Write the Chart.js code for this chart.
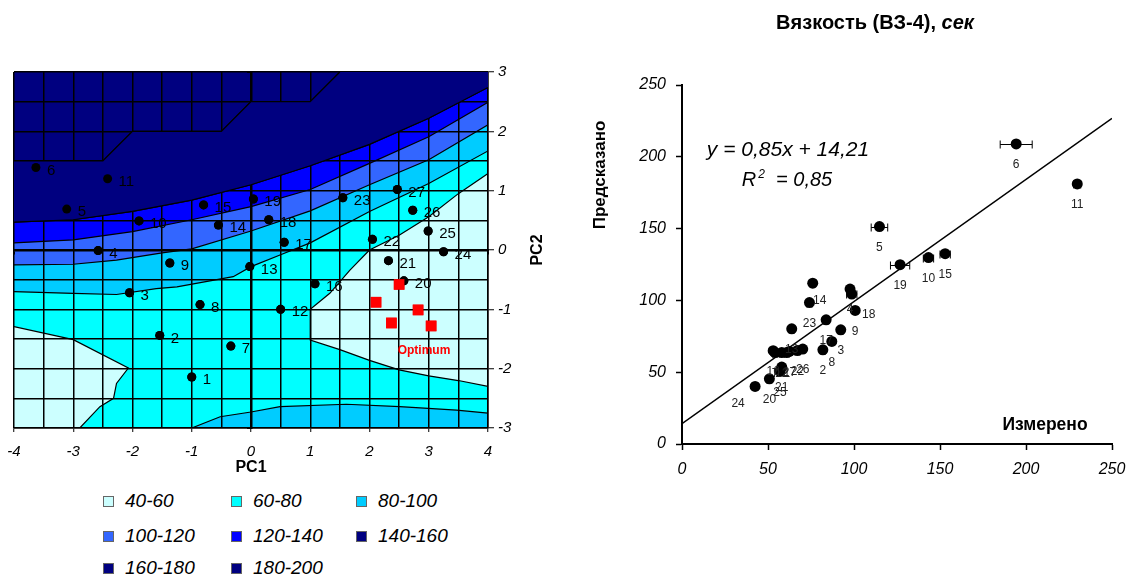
<!DOCTYPE html>
<html lang="ru">
<head>
<meta charset="utf-8">
<title>Вязкость (ВЗ-4)</title>
<script src="https://cdn.jsdelivr.net/npm/chart.js@4.4.1/dist/chart.umd.min.js"></script>
<style>
  html, body { margin: 0; padding: 0; background: #fff; }
  #page { position: relative; width: 1134px; height: 578px; overflow: hidden;
          font-family: Arial, "Liberation Sans", sans-serif; color: #000; }
  #pcaChart { position: absolute; left: 0; top: 0; }
  #fitChart { position: absolute; left: 580px; top: 0; }
  .label { position: absolute; white-space: nowrap; transform: translate(-50%, -50%); }
  .vertical { transform: translate(-50%, -50%) rotate(-90deg); }
  .legend-item { position: absolute; font-style: italic; font-size: 19px; line-height: 20px;
                 padding-left: 22px; white-space: nowrap; }
  .legend-item span { position: absolute; left: 0; top: 5px; width: 9px; height: 9px;
                      border: 1px solid #666; }
</style>
</head>
<body>
<div id="page">
  <canvas id="pcaChart" width="560" height="480"></canvas>
  <canvas id="fitChart" width="554" height="500"></canvas>

  <div class="label vertical" style="left:537px;top:250px;font-weight:bold;font-size:16px">PC2</div>

  <div class="label" style="left:875px;top:22px;font-weight:bold;font-size:20px">Вязкость (ВЗ-4), <i>сек</i></div>
  <div class="label vertical" style="left:600px;top:175px;font-weight:bold;font-size:17px">Предсказано</div>
  <div class="label" style="left:1045px;top:424px;font-weight:bold;font-size:17.5px">Измерено</div>
  <div id="eqLine" class="label" style="left:788px;top:149px;font-style:italic;font-size:21px"></div>
  <div id="r2Line" class="label" style="left:787px;top:179px;font-style:italic;font-size:20px"></div>

  <div id="legend"></div>
</div>

<script>
`use strict`

// ---------------- left chart: samples in PC1/PC2 over the viscosity surface ----------------

const sampleNames = ['1', '2', '3', '4', '5', '6', '7', '8', '9', '10', '11', '12', '13', '14',
    '15', '16', '17', '18', '19', '20', '21', '22', '23', '24', '25', '26', '27'];
const samplePc1 = [-1.00, -1.54, -2.05, -2.58, -3.11, -3.63, -0.34, -0.86, -1.37, -1.89, -2.42, 0.50, -0.02, -0.55,
    -0.80, 1.08, 0.56, 0.30, 0.04, 2.58, 2.32, 2.05, 1.55, 3.25, 2.99, 2.73, 2.47];
const samplePc2 = [-2.14, -1.44, -0.72, -0.01, 0.69, 1.39, -1.62, -0.92, -0.22, 0.49, 1.20, -1.00, -0.28, 0.42,
    0.76, -0.57, 0.13, 0.51, 0.86, -0.52, -0.18, 0.18, 0.88, -0.03, 0.32, 0.67, 1.02];

// optimum settings (red squares)
const optimumPc1 = [2.11, 2.50, 2.82, 2.37, 3.04];
const optimumPc2 = [-0.88, -0.58, -1.01, -1.23, -1.28];

// contour lines of the response surface
const c80x = [-4, -3, -2.27, -1.6, -1.25, -0.3, 0, 0.5, 1, 2, 3, 4];
const c80y = [-0.70, -0.73, -0.75, -0.65, -0.62, -0.45, -0.28, -0.08, 0.12, 0.65, 1.12, 1.67];
const c100x = [-4, -3, -2.27, -1.5, -1, 0, 1, 2, 3, 4];
const c100y = [-0.25, -0.24, -0.17, -0.05, 0.02, 0.32, 0.66, 1.10, 1.52, 2.11];
const c120x = [-4, -3, -2, -1, 0, 1, 2, 3, 4];
const c120y = [0.12, 0.17, 0.31, 0.51, 0.73, 1.02, 1.46, 1.91, 2.49];
const c140x = [-4, -3, -2, -1, 0, 1, 2, 3, 4];
const c140y = [0.47, 0.51, 0.65, 0.84, 1.10, 1.42, 1.78, 2.22, 2.74];
const c160x = [-4, -2.5, -2, -0.5, 0, 1, 1.5];
const c160y = [1.5, 1.5, 2.0, 2.0, 2.5, 2.5, 3.0];
// 60 line, right-hand low area
const c60rx = [4, 3.5, 3, 2.5, 2, 1.67, 1.33, 1, 1, 1.5, 2, 2.5, 3, 3.5, 4];
const c60ry = [1.29, 0.95, 0.56, 0.25, 0, -0.34, -0.73, -1.0, -1.52, -1.68, -1.86, -2.02, -2.12, -2.2, -2.3];
// 60 line, lower-left low area
const c60lx = [-4, -3, -2.07, -2.27, -2.32, -2.55, -2.89];
const c60ly = [-1.29, -1.51, -1.99, -2.25, -2.5, -2.64, -3.0];
// 80 line along the bottom edge
const c80bx = [-1, -0.52, 0, 0.49, 1.61, 2.51, 3.47, 4];
const c80by = [-3, -2.81, -2.73, -2.64, -2.60, -2.64, -2.70, -2.75];

const bandLabels = ['40-60', '60-80', '80-100', '100-120', '120-140', '140-160', '160-180', '180-200'];
const bandColors = ['#ccffff', '#00ffff', '#00ccff', '#3366ff', '#0000ff', '#000080', '#000080', '#000080'];

const pcXMin = -4, pcXMax = 4, pcYMin = -3, pcYMax = 3;

// ---------------- right chart: measured vs predicted viscosity ----------------

const fitNames = sampleNames;
const measured = [60.9, 81.9, 92.3, 97.7, 114.8, 194.3, 54.1, 87.1, 100.7, 143.3, 229.8, 58.0, 63.8, 76.0,
    153.0, 53.0, 83.8, 98.7, 126.8, 50.8, 58.0, 67.1, 74.1, 42.5, 57.0, 70.2, 62.5];
const predicted = [63.7, 65.6, 79.5, 107.9, 151.4, 209.0, 63.7, 71.4, 93.0, 129.8, 181.1, 63.7, 80.2, 112.0,
    132.5, 65.0, 86.5, 104.4, 124.9, 45.4, 53.6, 65.1, 98.5, 40.1, 50.5, 66.1, 64.5];
// horizontal error of the measurement
const measuredErr = [1.5, 1.5, 1.5, 1.5, 4.8, 9.3, 1.5, 1.5, 1.5, 3.0, 2.0, 1.5, 1.5, 1.5,
    3.0, 1.5, 1.5, 3.0, 5.6, 1.5, 1.5, 1.5, 1.5, 1.5, 1.5, 1.5, 1.5];
const fitSlope = 0.85;
const fitIntercept = 14.21;
const fitR2 = 0.85;

const FONT = 'Arial, "Liberation Sans", sans-serif';


// ---------------- helpers ----------------

function toPoints(xs, ys) {
    return xs.map((x, i) => ({ x: x, y: ys[i] }));
}

function isWhole(v) {
    return Math.abs(v - Math.round(v)) < 1e-6;
}

function fillArea(points, color, order) {
    return {
        type: 'line', data: points, fill: 'shape', backgroundColor: color,
        borderWidth: 0, pointRadius: 0, order: order
    };
}

function contourLine(xs, ys) {
    return {
        type: 'line', data: toPoints(xs, ys), fill: false, borderColor: '#000',
        borderWidth: 1.2, pointRadius: 0, order: 10
    };
}

// Areas above each contour line, closed along the top of the plot.
const topEdge = [{ x: pcXMax, y: pcYMax }, { x: pcXMin, y: pcYMax }];
// 140-160 band alone (between the 160 and 140 lines); the grid does not show through it
const band140Area = toPoints(c160x, c160y)
    .concat([{ x: pcXMax, y: pcYMax }])
    .concat(toPoints(c140x, c140y).reverse());

const bandFills = [
    fillArea(toPoints(c80x, c80y).concat(topEdge), bandColors[2], 100),
    fillArea(toPoints(c100x, c100y).concat(topEdge), bandColors[3], 99),
    fillArea(toPoints(c120x, c120y).concat(topEdge), bandColors[4], 98),
    fillArea(toPoints(c140x, c140y).concat(topEdge), bandColors[5], 97),
    fillArea(toPoints(c60rx, c60ry), bandColors[0], 96),
    fillArea(toPoints(c60lx, c60ly).concat([{ x: pcXMin, y: pcYMin }]), bandColors[0], 95),
    fillArea(toPoints(c80bx, c80by).concat([{ x: pcXMax, y: pcYMin }]), bandColors[2], 94),
    fillArea(band140Area, bandColors[5], 93)
];
const band140Index = bandFills.length - 1;

const contourLines = [
    contourLine(c80x, c80y), contourLine(c100x, c100y), contourLine(c120x, c120y),
    contourLine(c140x, c140y), contourLine(c160x, c160y), contourLine(c60rx, c60ry),
    contourLine(c60lx, c60ly), contourLine(c80bx, c80by)
];
const c140Index = bandFills.length + 3;
const c160Index = bandFills.length + 4;

const samplesIndex = bandFills.length + contourLines.length;
const optimumIndex = samplesIndex + 1;


// ---------------- plugins ----------------

// lowest band (60-80) painted under everything else
const plotBackground = {
    id: 'plotBackground',
    beforeDatasetsDraw(chart) {
        const { ctx, chartArea: a } = chart;
        ctx.save();
        ctx.fillStyle = bandColors[1];
        ctx.fillRect(a.left, a.top, a.width, a.height);
        ctx.restore();
    }
};

// the grid is drawn above the datasets (grid.z = 1); the 140-160 band and the markers go on top once more
const markersOnTop = {
    id: 'markersOnTop',
    afterDraw(chart) {
        const { ctx, chartArea: a } = chart;
        ctx.save();
        ctx.beginPath();
        ctx.rect(a.left, a.top, a.width, a.height);
        ctx.clip();
        const band = chart.getDatasetMeta(band140Index).dataset;
        if (band && band.path) {
            ctx.fillStyle = bandColors[5];
            ctx.beginPath();
            band.path(ctx);
            ctx.closePath();
            ctx.fill();
        }
        chart.getDatasetMeta(c140Index).controller.draw();
        chart.getDatasetMeta(c160Index).controller.draw();
        ctx.restore();

        ctx.save();
        ctx.beginPath();
        ctx.rect(a.left - 6, a.top - 6, a.width + 12, a.height + 12);
        ctx.clip();
        chart.getDatasetMeta(samplesIndex).controller.draw();
        chart.getDatasetMeta(optimumIndex).controller.draw();
        ctx.restore();
    }
};

// number next to each point
function makePointLabels(id, datasetIndex, names, font, color, align, dx, dy, offsets) {
    return {
        id: id,
        afterDraw(chart) {
            const meta = chart.getDatasetMeta(datasetIndex);
            const ctx = chart.ctx;
            ctx.save();
            ctx.font = font;
            ctx.fillStyle = color;
            ctx.textAlign = align;
            ctx.textBaseline = 'middle';
            meta.data.forEach((pt, i) => {
                const off = offsets[names[i]] || [dx, dy];
                ctx.fillText(names[i], pt.x + off[0], pt.y + off[1]);
            });
            ctx.restore();
        }
    };
}

// "Optimum" note under the red squares
const optimumNote = {
    id: 'optimumNote',
    afterDraw(chart) {
        const { ctx, scales } = chart;
        ctx.save();
        ctx.font = 'bold 12px ' + FONT;
        ctx.fillStyle = '#ff0000';
        ctx.textAlign = 'center';
        ctx.textBaseline = 'middle';
        ctx.fillText('Optimum', scales.x.getPixelForValue(2.92), scales.y.getPixelForValue(-1.69));
        ctx.restore();
    }
};

// horizontal error bars for the measured values
const errorBars = {
    id: 'errorBars',
    beforeDatasetDraw(chart, args) {
        if (args.index !== 0) return;
        const { ctx, scales } = chart;
        ctx.save();
        ctx.strokeStyle = '#000';
        ctx.lineWidth = 1;
        ctx.beginPath();
        measured.forEach((m, i) => {
            const y = Math.round(scales.y.getPixelForValue(predicted[i])) + 0.5;
            const x1 = scales.x.getPixelForValue(m - measuredErr[i]);
            const x2 = scales.x.getPixelForValue(m + measuredErr[i]);
            ctx.moveTo(x1, y); ctx.lineTo(x2, y);
            ctx.moveTo(x1, y - 4); ctx.lineTo(x1, y + 4);
            ctx.moveTo(x2, y - 4); ctx.lineTo(x2, y + 4);
        });
        ctx.stroke();
        ctx.restore();
    }
};

// keep the chart area where the original has it: no extra room for end labels
function fixHeight(h) {
    return s => { s.height = h; s.paddingLeft = 0; s.paddingRight = 0; };
}
function fixWidth(w) {
    return s => { s.width = w; s.paddingTop = 0; s.paddingBottom = 0; };
}


// ---------------- left chart ----------------

const pcTickFont = { family: FONT, size: 15, style: 'italic' };
const wholeLabel = v => isWhole(v) ? String(Math.round(v)) : '';
const wholeTick = c => (c.tick && isWhole(c.tick.value)) ? '#000' : 'rgba(0,0,0,0)';

const pcaChart = new Chart(document.getElementById('pcaChart'), {
    type: 'scatter',
    data: {
        datasets: bandFills.concat(contourLines).concat([
            {
                label: 'samples',
                data: toPoints(samplePc1, samplePc2),
                pointRadius: 4.5, backgroundColor: '#000', borderWidth: 0, order: 2
            },
            {
                label: 'optimum',
                data: toPoints(optimumPc1, optimumPc2),
                pointStyle: 'rect', pointRadius: 7.5, backgroundColor: '#ff0000', borderWidth: 0, order: 1
            }
        ])
    },
    options: {
        responsive: false,
        animation: false,
        layout: { padding: { left: 14, top: 72, right: 0, bottom: 0 } },
        plugins: { legend: { display: false }, tooltip: { enabled: false } },
        scales: {
            x: {
                type: 'linear', min: pcXMin, max: pcXMax, position: 'bottom',
                afterFit: fixHeight(52),
                ticks: { stepSize: 0.5, autoSkip: false, maxRotation: 0, padding: 11, color: '#000', font: pcTickFont, callback: wholeLabel },
                grid: { color: '#000', lineWidth: 1.5, tickLength: 4, tickWidth: 1, tickColor: wholeTick, z: 1 },
                border: { color: '#000', width: 1.5, z: 1 },
                title: {
                    display: true, text: 'PC1', color: '#000',
                    font: { family: FONT, size: 16, weight: 'bold' }, padding: { top: 0, bottom: 3 }
                }
            },
            y: {
                type: 'linear', min: pcYMin, max: pcYMax, position: 'right',
                afterFit: fixWidth(72),
                ticks: { stepSize: 0.5, autoSkip: false, padding: 4, color: '#000', font: pcTickFont, callback: wholeLabel },
                grid: { color: '#000', lineWidth: 1.5, tickLength: 6, tickWidth: 1, tickColor: wholeTick, z: 1 },
                border: { color: '#000', width: 1.5, z: 1 }
            },
            xMid: {
                type: 'linear', axis: 'x', min: pcXMin, max: pcXMax, position: { y: 0 },
                ticks: { display: false, stepSize: 1 },
                grid: { drawOnChartArea: false, tickLength: 3, tickColor: '#000', z: 2 },
                border: { color: '#000', width: 2.5, z: 2 }
            },
            yMid: {
                type: 'linear', axis: 'y', min: pcYMin, max: pcYMax, position: { x: 0 },
                ticks: { display: false, stepSize: 1 },
                grid: { drawOnChartArea: false, tickLength: 3, tickColor: '#000', z: 2 },
                border: { color: '#000', width: 2.5, z: 2 }
            }
        }
    },
    plugins: [plotBackground, markersOnTop,
        makePointLabels('pcaLabels', samplesIndex, sampleNames, '15px ' + FONT, '#000', 'left', 11, 3, {}),
        optimumNote]
});


// ---------------- right chart ----------------

const fitTickFont = { family: FONT, size: 16, style: 'italic' };
const fitFrom = 0, fitTo = 250;

const fitChart = new Chart(document.getElementById('fitChart'), {
    type: 'scatter',
    data: {
        datasets: [
            {
                label: 'samples',
                data: toPoints(measured, predicted),
                pointRadius: 5.5, backgroundColor: '#000', borderWidth: 0, order: 1
            },
            {
                type: 'line', label: 'fit',
                data: [
                    { x: fitFrom, y: fitSlope * fitFrom + fitIntercept },
                    { x: fitTo, y: fitSlope * fitTo + fitIntercept }
                ],
                borderColor: '#000', borderWidth: 1.5, pointRadius: 0, fill: false, order: 2
            }
        ]
    },
    options: {
        responsive: false,
        animation: false,
        layout: { padding: { left: 0, top: 85, right: 22, bottom: 0 } },
        plugins: { legend: { display: false }, tooltip: { enabled: false } },
        scales: {
            x: {
                type: 'linear', min: 0, max: 250, position: 'bottom',
                afterFit: fixHeight(56),
                ticks: { stepSize: 50, padding: 10, color: '#000', font: fitTickFont },
                grid: { drawOnChartArea: false, tickLength: 6, tickColor: '#000', tickWidth: 1.5 },
                border: { color: '#000', width: 2 }
            },
            y: {
                type: 'linear', min: 0, max: 250, position: 'left',
                afterFit: fixWidth(102),
                ticks: { stepSize: 50, padding: 10, color: '#000', font: fitTickFont },
                grid: { drawOnChartArea: false, tickLength: 6, tickColor: '#000', tickWidth: 1.5 },
                border: { color: '#000', width: 2 }
            }
        }
    },
    plugins: [errorBars,
        makePointLabels('fitLabels', 0, fitNames, '12px ' + FONT, '#222', 'center', 0, 21,
            { '24': [-17, 17], '14': [7, 18], '18': [17, 21] })]
});

// equation of the trend line, decimal comma as in the original
const comma = v => v.toFixed(2).replace('.', ',');
document.getElementById('eqLine').textContent = 'y = ' + comma(fitSlope) + 'x + ' + comma(fitIntercept);
document.getElementById('r2Line').innerHTML =
    'R<sup style="font-size:12px;margin-left:2px">2</sup>&nbsp; = ' + comma(fitR2);

// legend of the surface bands, three per row
const legendBox = document.getElementById('legend');
const legendCols = [103, 231, 356];
const legendRows = [501, 536, 568];
bandLabels.forEach((name, i) => {
    const item = document.createElement('div');
    item.className = 'legend-item';
    item.style.left = legendCols[i % 3] + 'px';
    item.style.top = (legendRows[Math.floor(i / 3)] - 10) + 'px';
    const box = document.createElement('span');
    box.style.background = bandColors[i];
    item.appendChild(box);
    item.appendChild(document.createTextNode(name));
    legendBox.appendChild(item);
});
</script>
</body>
</html>
